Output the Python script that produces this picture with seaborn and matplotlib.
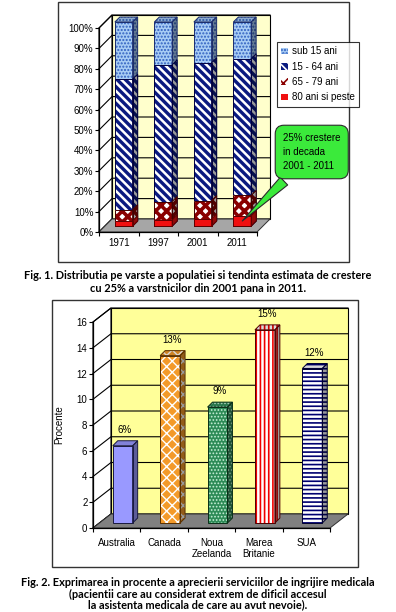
import numpy as np
import pandas as pd
import matplotlib
matplotlib.use('Agg')
import matplotlib.pyplot as plt
import matplotlib.transforms as mtransforms
from matplotlib.colors import to_rgba
from matplotlib.lines import Line2D
from matplotlib.patches import Polygon, Rectangle, Patch
import seaborn as sns

# Fig. 1 - distributia pe varste (procente)
ani = ['1971', '1997', '2001', '2011']
grupe = ['sub 15 ani', '15 - 64 ani', '65 - 79 ani', '80 ani si peste']
sub_15 = [28, 21, 20, 18]
v_15_64 = [64, 67, 67.5, 67]
v_65_79 = [5.5, 9, 9, 10]
peste_80 = [2.5, 3, 3.5, 5]
ticks_fig1 = [0, 10, 20, 30, 40, 50, 60, 70, 80, 90, 100]

# Fig. 2 - aprecierea serviciilor medicale
tari = ['Australia', 'Canada', 'Noua\nZeelanda', 'Marea\nBritanie', 'SUA']
procente = [6, 13, 9, 15, 12]
ticks_fig2 = [0, 2, 4, 6, 8, 10, 12, 14, 16]

W, H = 396, 612
plt.rcParams['font.family'] = ['Liberation Sans', 'DejaVu Sans']
plt.rcParams['font.size'] = 7
plt.rcParams['hatch.linewidth'] = 1.2

fig = plt.figure(figsize=(W / 100, H / 100), dpi=100)
ident = mtransforms.IdentityTransform()


def box(x, y, w, h):
    # pixel box (origin top-left) -> figure fraction rect
    return [x / W, 1 - (y + h) / H, w / W, h / H]


def shade(c, f):
    r, g, b, a = to_rgba(c)
    return (r * f, g * f, b * f, a)


def px(ax, x, y):
    return ax.transData.transform((x, y))


def draw_walls(ax, off, wall_color, floor_color, ticks):
    dx, dy = off
    x0, x1 = ax.get_xlim()
    y0, y1 = ax.get_ylim()
    ax0, ay0 = px(ax, x0, y0)
    ax1, ay1 = px(ax, x1, y1)
    kw = dict(transform=ident, clip_on=False)
    ax.add_artist(Polygon([(ax0, ay0), (ax0, ay1), (ax0 + dx, ay1 + dy), (ax0 + dx, ay0 + dy)],
                          fc='white', ec='black', lw=0.8, zorder=0.1, **kw))
    ax.add_artist(Rectangle((ax0 + dx, ay0 + dy), ax1 - ax0, ay1 - ay0,
                            fc=wall_color, ec='black', lw=0.8, zorder=0.1, **kw))
    for t in ticks:
        _, ty = px(ax, x0, t)
        ax.add_artist(Line2D([ax0, ax0 + dx, ax1 + dx], [ty, ty + dy, ty + dy],
                             color='black', lw=0.8, zorder=0.2, **kw))
    ax.add_artist(Polygon([(ax0, ay0), (ax1, ay0), (ax1 + dx, ay0 + dy), (ax0 + dx, ay0 + dy)],
                          fc=floor_color, ec='#303030', lw=0.7, zorder=0.3, **kw))


def bars_3d(ax, container, off, depth, outline, z, top=True):
    ox, oy = off
    dx, dy = depth
    t_off = mtransforms.offset_copy(ax.transData, fig=ax.figure, x=ox, y=oy, units='dots')
    for bar, oc in zip(container, outline):
        bar.set_transform(t_off)
        bar.set_clip_on(False)
        bar.set_zorder(z)
        bar.set_linewidth(0)
        x, y, w, h = bar.get_x(), bar.get_y(), bar.get_width(), bar.get_height()
        fx0, fy0 = px(ax, x, y) + (ox, oy)
        fx1, fy1 = px(ax, x + w, y + h) + (ox, oy)
        fc = bar.get_facecolor()
        hc = bar.get_edgecolor()
        hatch = bar.get_hatch()
        kw = dict(transform=ident, clip_on=False)
        faces = [[(fx1, fy0), (fx1 + dx, fy0 + dy), (fx1 + dx, fy1 + dy), (fx1, fy1)]]
        cols = [(shade(fc, 0.6), shade(hc, 0.6))]
        if top:
            faces.append([(fx0, fy1), (fx1, fy1), (fx1 + dx, fy1 + dy), (fx0 + dx, fy1 + dy)])
            cols.append((shade(fc, 0.85), shade(hc, 0.85)))
        for pts, (c1, c2) in zip(faces, cols):
            p = Polygon(pts, fc=c1, ec=c2, lw=0, hatch=hatch, zorder=z, **kw)
            if hasattr(bar, 'get_hatch_linewidth') and hasattr(p, 'set_hatch_linewidth'):
                p.set_hatch_linewidth(bar.get_hatch_linewidth())
            ax.add_artist(p)
            ax.add_artist(Polygon(pts, fill=False, ec=oc, lw=0.7, zorder=z + 0.01, **kw))
        ax.add_artist(Polygon([(fx0, fy0), (fx1, fy0), (fx1, fy1), (fx0, fy1)],
                              fill=False, ec=oc, lw=0.7, zorder=z + 0.01, **kw))


def style_axes(ax, ticks, labels):
    ax.set_facecolor('none')
    ax.set_ylim(ticks[0], ticks[-1])
    ax.set_yticks(ticks)
    ax.set_yticklabels(labels)
    ax.set_xlabel('')
    ax.set_ylabel('')
    n = len(ax.get_xticks())
    ax.set_xlim(-0.5, n - 0.5)
    ax.set_xticks([i - 0.5 for i in range(n + 1)], minor=True)
    for s in ['top', 'right']:
        ax.spines[s].set_visible(False)
    for s in ['left', 'bottom']:
        ax.spines[s].set_color('black')
        ax.spines[s].set_linewidth(0.9)
        ax.spines[s].set_zorder(10)
    ax.tick_params(axis='y', which='major', length=3, width=0.8, direction='out',
                   pad=1, labelsize=7, colors='black', left=True)
    ax.tick_params(axis='x', which='major', length=0, labelsize=7, colors='black')
    ax.tick_params(axis='x', which='minor', length=3, width=0.8, direction='out',
                   bottom=True, colors='black')


# ---------------- Fig. 1 ----------------
fig.add_artist(Rectangle((58 / W, 1 - 262 / H), 291 / W, 260 / H, transform=fig.transFigure,
                         fill=False, ec='#333333', lw=1))
ax1 = fig.add_axes(box(99, 28, 158, 204))

cum_80 = np.array(peste_80)
cum_65 = cum_80 + np.array(v_65_79)
cum_15 = cum_65 + np.array(v_15_64)
cum_all = cum_15 + np.array(sub_15)
df1 = pd.DataFrame({'an': ani, 'sub 15 ani': cum_all, '15 - 64 ani': cum_15,
                    '65 - 79 ani': cum_65, '80 ani si peste': cum_80})

# face, hatch, hatch colour, outline
stil1 = {
    'sub 15 ani': ('#A8CCF4', '.....', '#2F5FC0', '#1C2E6E'),
    '15 - 64 ani': ('#0A1A80', '\\\\\\\\', 'white', '#000040'),
    '65 - 79 ani': ('white', 'xxx', '#8A0000', '#400000'),
    '80 ani si peste': ('#F01010', '', '#F01010', '#600000'),
}
hl1 = {'sub 15 ani': 1.0, '15 - 64 ani': 1.8, '65 - 79 ani': 2.6, '80 ani si peste': 1.0}

for k, g in enumerate(grupe):
    fc, ha, hc, oc = stil1[g]
    with plt.rc_context({'hatch.linewidth': hl1[g]}):
        sns.barplot(data=df1, x='an', y=g, order=ani, color=fc, hatch=ha, edgecolor=hc,
                    saturation=1, width=0.45, errorbar=None, ax=ax1)
        cont = ax1.containers[-1]
        for b in cont:
            b.set_facecolor(fc)
            if hasattr(b, 'set_hatch_linewidth'):
                b.set_hatch_linewidth(hl1[g])
        style_axes(ax1, ticks_fig1, [f'{t}%' for t in ticks_fig1])
        bars_3d(ax1, cont, (5, 6), (5, 5), [oc] * len(ani), 2 + k, top=(k == 0))

draw_walls(ax1, (13, 13), '#FFFFCC', '#A6A6A6', ticks_fig1)
ax1.tick_params(axis='x', which='major', pad=4)

handles = []
for g in grupe:
    fc, ha, hc, oc = stil1[g]
    handles.append(Patch(facecolor=fc, hatch=ha, edgecolor=hc, lw=0))
leg = fig.legend(handles, grupe, loc='upper left', bbox_to_anchor=(277 / W, 1 - 42 / H),
                 bbox_transform=fig.transFigure, frameon=True, fancybox=False,
                 edgecolor='black', fontsize=7, handlelength=0.7, handleheight=0.7,
                 handletextpad=0.4, labelspacing=0.55, borderpad=0.45, borderaxespad=0)
leg.get_frame().set_linewidth(0.8)

t_bar = mtransforms.offset_copy(ax1.transData, fig=fig, x=3, y=6, units='dots')
ax1.annotate('25% crestere\nin decada\n2001 - 2011', xy=(3, peste_80[3] * 0.3), xycoords=t_bar,
             xytext=(283, H - 133), textcoords='figure pixels', ha='left', va='top',
             fontsize=7, linespacing=1.5, zorder=20, annotation_clip=False,
             bbox=dict(boxstyle='round,pad=0.8,rounding_size=0.9', fc='#3BEA3B', ec='#2A2A2A', lw=0.8),
             arrowprops=dict(arrowstyle='wedge,tail_width=1.1,shrink_factor=0.5', fc='#3BEA3B',
                             ec='#2A2A2A', lw=0.8, relpos=(0.2, 0.0)))

cap = dict(ha='center', va='center', fontsize=7.9, fontweight='bold', family='Lato')
fig.text(0.5, 1 - 276 / H, 'Fig. 1. Distributia pe varste a populatiei si tendinta estimata de crestere', **cap)
fig.text(0.5, 1 - 288 / H, 'cu 25% a varstnicilor din 2001 pana in 2011.', **cap)

# ---------------- Fig. 2 ----------------
fig.add_artist(Rectangle((52 / W, 1 - 567 / H), 306 / W, 267 / H, transform=fig.transFigure,
                         fill=False, ec='#333333', lw=1))
ax2 = fig.add_axes(box(93, 322, 237, 206))
df2 = pd.DataFrame({'tara': tari, 'procente': procente})

stil2 = [
    ('#9999FF', '', '#9999FF', '#1A1A40'),
    ('#F39A2A', 'xxx', 'white', '#5A3000'),
    ('#2E8B57', '.....', '#C8F0D8', '#0A3018'),
    ('white', '||||', '#F00000', '#500000'),
    ('white', '----', '#000070', '#000030'),
]
hl2 = [1.0, 1.0, 0.8, 1.2, 1.2]

sns.barplot(data=df2, x='tara', y='procente', order=tari, color='#9999FF', saturation=1,
            width=0.42, errorbar=None, ax=ax2)
cont2 = ax2.containers[-1]
for b, (fc, ha, hc, oc), lw in zip(cont2, stil2, hl2):
    b.set_facecolor(fc)
    b.set_edgecolor(hc)
    b.set_hatch(ha)
    if hasattr(b, 'set_hatch_linewidth'):
        b.set_hatch_linewidth(lw)
style_axes(ax2, ticks_fig2, [str(t) for t in ticks_fig2])
bars_3d(ax2, cont2, (6, 5), (5, 5), [s[3] for s in stil2], 2)
draw_walls(ax2, (18, 14), '#FFFF99', '#808080', ticks_fig2)
ax2.tick_params(axis='x', which='major', pad=7)
ax2.set_ylabel('Procente', fontsize=7, labelpad=9)

for i, v in enumerate(procente):
    ax2.annotate(f'{v}%', xy=(i, v), xytext=(8, 16), textcoords='offset pixels',
                 ha='center', va='bottom', fontsize=7, annotation_clip=False)

fig.text(0.5, 1 - 583 / H, 'Fig. 2. Exprimarea in procente a aprecierii serviciilor de ingrijire medicala', **cap)
fig.text(0.5, 1 - 594 / H, '(pacientii care au considerat extrem de dificil accesul', **cap)
fig.text(0.5, 1 - 605 / H, 'la asistenta medicala de care au avut nevoie).', **cap)

fig.savefig('out.png', dpi=100)
